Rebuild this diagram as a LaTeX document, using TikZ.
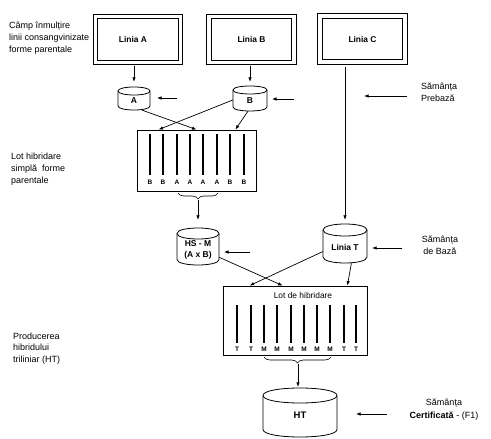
\documentclass[tikz,border=0pt]{standalone}
\usepackage{fontspec}
\setmainfont{Liberation Sans}
\usetikzlibrary{arrows.meta,decorations.pathreplacing}
\newcommand\mycyl[8]{%
 \draw[cyl] (#2-#5,#3+#6) -- (#2-#5,#4-#6) .. controls (#2-#5,#4+#6/3) and (#2+#5,#4+#6/3) .. (#2+#5,#4-#6) -- (#2+#5,#3+#6) .. controls (#2+#5,#3-#6/3) and (#2-#5,#3-#6/3) .. cycle;
 \draw[cyl] (#2-#5,#3+#6) .. controls (#2-#5,#3+7*#6/3) and (#2+#5,#3+7*#6/3) .. (#2+#5,#3+#6);
 \node[cylbody, minimum width=2*#5, minimum height=#4-#3] (#1) at (#2,{(#3+#4)/2}) {};
 \node[ctext] (#1-t) at (#2,{(#3+#4)/2+#8}) {#7};
}
\begin{document}
\begin{tikzpicture}[x=1pt,y=-1pt,
  arr/.style={-{Latex[length=4.5pt,width=3.5pt]}, line width=0.7pt},
  dbox/.style={draw, double, double distance=3.8pt, line width=0.8pt, minimum width=85pt, minimum height=46pt, inner sep=0pt, font=\fontsize{8.4}{10}\selectfont\bfseries},
  cyl/.style={line width=0.8pt, fill=white},
  cylbody/.style={inner sep=0pt},
  ctext/.style={font=\fontsize{8.5}{10.5}\selectfont\bfseries, align=center, inner sep=0pt},
  note/.style={font=\fontsize{9}{12}\selectfont, align=left, inner sep=0pt, anchor=north west},
  lotbox/.style={draw, line width=0.8pt, inner sep=0pt},
  rowline/.style={line width=1.6pt},
  rowthin/.style={line width=1.1pt},
  lett/.style={font=\fontsize{6.5}{7}\selectfont\bfseries, inner sep=0pt},
  bracedn/.style={decorate, decoration={brace, mirror, amplitude=6pt}, line width=0.6pt}
]
\useasboundingbox (0,0) rectangle (491,439);

% parent line boxes
\node[dbox] (bA) at (138,39.5) {Linia A\hspace*{10pt}};
\node[dbox] (bB) at (251.5,39.5) {Linia B};
\node[dbox] (bC) at (362.5,39) {Linia C};

% cylinders
\mycyl{cA}{134}{87}{110}{16}{4}{A}{2.5}
\mycyl{cB}{250}{86}{111}{17}{4}{B}{2.5}
\mycyl{cHS}{198}{228}{265}{21}{5.5}{HS - M\\(A x B)}{3.5}
\mycyl{cT}{345}{224}{263}{22}{6}{Linia T}{3.5}
\mycyl{cHT}{300}{388}{437}{37}{7.5}{\fontsize{9.5}{11}\selectfont HT}{2.5}

\draw[arr, shorten <=2.7pt, shorten >=5pt] (bA.south -| cA.north) -- (cA.north);
\draw[arr, shorten <=2.7pt, shorten >=4pt] (bB.south -| cB.north) -- (cB.north);
\draw[arr, shorten <=5pt, shorten >=4pt] (bC.south -| cT.north) -- (cT.north);

% seed input arrows
\coordinate (sA) at (177,98);  \coordinate (tA) at (157,98);
\coordinate (sB) at (294,99);  \coordinate (tB) at (272,99);
\coordinate (sP) at (407,96);  \coordinate (tP) at (364,96);
\coordinate (sH) at (250,252); \coordinate (tH) at (224,252);
\coordinate (sT) at (402,248); \coordinate (tT) at (372,248);
\coordinate (sC) at (387,414); \coordinate (tC) at (356,414);
\draw[arr] (sA) -- (tA);
\draw[arr] (sB) -- (tB);
\draw[arr] (sP) -- (tP);
\draw[arr] (sH) -- (tH);
\draw[arr] (sT) -- (tT);
\draw[arr] (sC) -- (tC);

% first hybridisation lot
\node[lotbox, minimum width=119pt, minimum height=61pt] (lot1) at (196.5,160.5) {};
\foreach \x/\l [count=\i] in {150/B,163/B,177/A,190/A,203/A,217/A,230/B,244/B} {
  \draw[rowline] (\x,134) -- (\x,175);
  \node[lett] (la-\i) at (\x,182) {\l};
}
\draw[arr] (cA.-55) -- (lot1.north);
\draw[arr] (cB.185) -- ([xshift=22pt]lot1.north west);
\draw[arr] (cB.-99) -- ([xshift=-21pt]lot1.north east);
\draw[bracedn] (178,193) -- (218,193);
\coordinate (br1) at (198,200);
\draw[arr, shorten >=8pt] (br1) -- (br1 |- cHS.north);

% second hybridisation lot
\node[lotbox, minimum width=144pt, minimum height=69pt] (lot2) at (295,320.5) {};
\node[font=\fontsize{8.4}{10}\selectfont, inner sep=0pt] (lot2t) at (303,295) {Lot de hibridare};
\foreach \x/\l/\s [count=\i] in {237/T/rowline,251/T/rowline,264/M/rowthin,277/M/rowthin,291/M/rowthin,304/M/rowthin,317/M/rowthin,330/M/rowthin,344/T/rowline,356/T/rowline} {
  \draw[\s] (\x,305) -- (\x,343);
  \node[lett] (lb-\i) at (\x,349) {\l};
}
\draw[arr] (cHS.-27) -- ([xshift=60pt]lot2.north west);
\draw[arr] (cT.200) -- ([xshift=27pt]lot2.north west);
\draw[arr] (cT.-72) -- ([xshift=-20pt]lot2.north east);
\draw[bracedn] (264,357) -- (331,357);
\coordinate (br2) at (298,364);
\draw[arr, shorten >=1pt] (br2) -- (br2 |- cHT.north);

% notes
\node[note] (n1) at (9,21.5) {Câmp înmulțire\\linii consangvinizate\\forme parentale};
\node[note] (n2) at (11,152.5) {Lot hibridare\\simplă\ \ forme\\parentale};
\node[note, font=\fontsize{9}{11.5}\selectfont] (n3) at (13,332.5) {Producerea\\hibridului\\triliniar (HT)};
\node[note] (n4) at (421,82.5) {Sămânța\\Prebază};
\node[note, align=center, anchor=north] (n5) at (440,235.5) {Sămânța\\de Bază};
\node[note, align=center, anchor=north, font=\fontsize{9}{13}\selectfont] (n6) at (444,398.5) {Sămânța\\\textbf{Certificată} - (F1)};
\end{tikzpicture}
\end{document}
